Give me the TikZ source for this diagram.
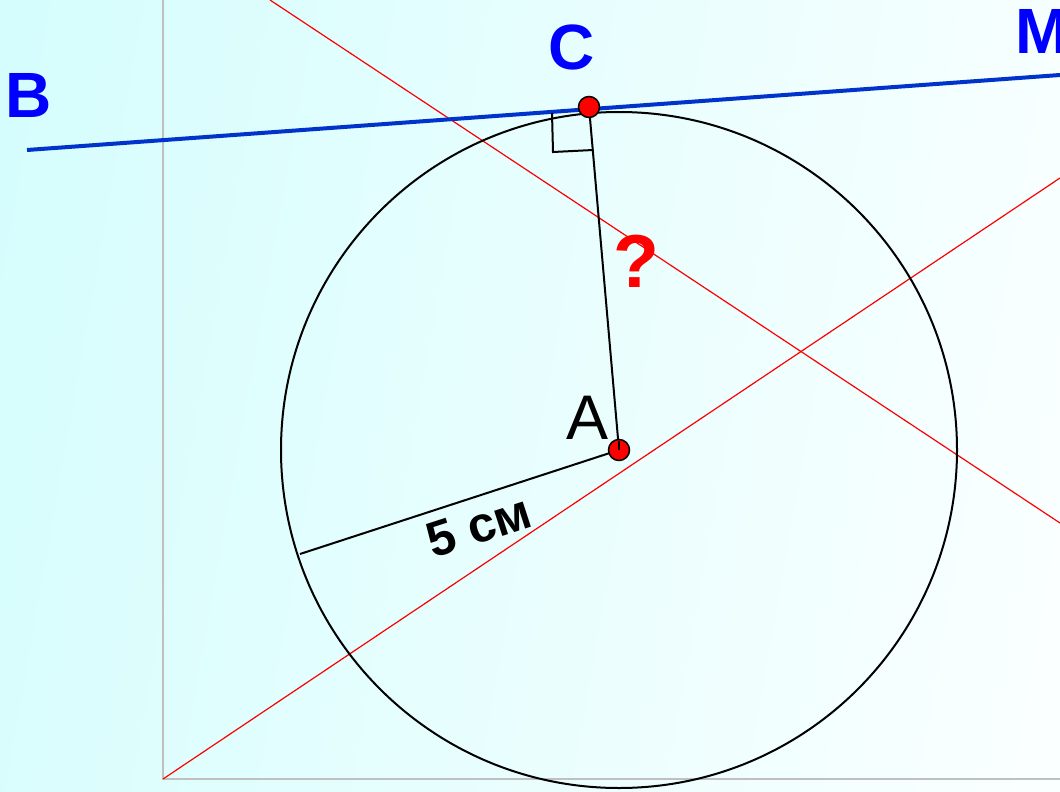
\documentclass[tikz,border=0pt]{standalone}
\usepackage{fontspec}
\setmainfont{Liberation Sans}
\definecolor{bgL}{RGB}{214,253,253}
\definecolor{bgR}{RGB}{250,255,255}
\definecolor{lineblue}{RGB}{0,51,204}
\definecolor{axisgray}{RGB}{192,192,192}
\tikzset{
  redline/.style={red, line width=1.2pt},
  blk/.style={black, line width=2pt},
  dotpt/.style={circle, fill=red, draw=black, line width=1.5pt, minimum size=21pt, inner sep=0pt},
  lbl/.style={inner sep=0pt, font=\fontsize{64}{64}\selectfont\bfseries, text=blue},
}
\begin{document}
\begin{tikzpicture}[x=1pt,y=-1pt]
\useasboundingbox (0,0) rectangle (1060,792);
\clip (0,0) rectangle (1060,792);
\shade[left color=bgL, right color=bgR, shading angle=80] (-50,-50) rectangle (1110,842);
% axes
\coordinate (O) at (163,779);
\coordinate (Yt) at (163,0);
\coordinate (Xr) at (1060,779);
\draw[axisgray, line width=1.5pt] (Yt) -- (O) -- (Xr);
% red lines
\coordinate (R1a) at (270,0);
\coordinate (R1b) at (1060,523);
\coordinate (R2b) at (1060,178);
\draw[redline] (R1a) -- (R1b);
\draw[redline] (O) -- (R2b);
% circle
\coordinate (A) at (619,450);
\coordinate (C) at (589,107);
\coordinate (R) at (300,554);
\draw[blk] (A) circle[radius=338pt];
% tangent line
\coordinate (Bend) at (27,150);
\coordinate (Mend) at (1060,75);
\draw[lineblue, line width=4pt] (Bend) -- (Mend);
% radii
\draw[blk] (C) -- (A);
\draw[blk] (A) -- (R);
% right angle mark
\draw[black, line width=2pt] (552,113) -- (553,152) -- (593,150);
% points
\node[dotpt] (Cd) at (C) {};
\node[dotpt] (Ad) at (A) {};
\draw[black, line width=1.5pt] (A) -- ++(0,-9);
% labels
\node[lbl] (Bl) at (29,95) {B};
\node[lbl] (Cl) at (572,47) {C};
\node[lbl, anchor=west] (Ml) at (1015,31) {M};
\node[inner sep=0pt, font=\fontsize{63}{63}\selectfont] (Al) at (588,418) {A};
\node[inner sep=0pt, font=\fontsize{75}{75}\selectfont\bfseries, text=red] (Q) at (636,261) {?};
\node[inner sep=0pt, font=\fontsize{50}{50}\selectfont\bfseries, rotate=18] (L5) at (479,526) {5 см};
\end{tikzpicture}
\end{document}
